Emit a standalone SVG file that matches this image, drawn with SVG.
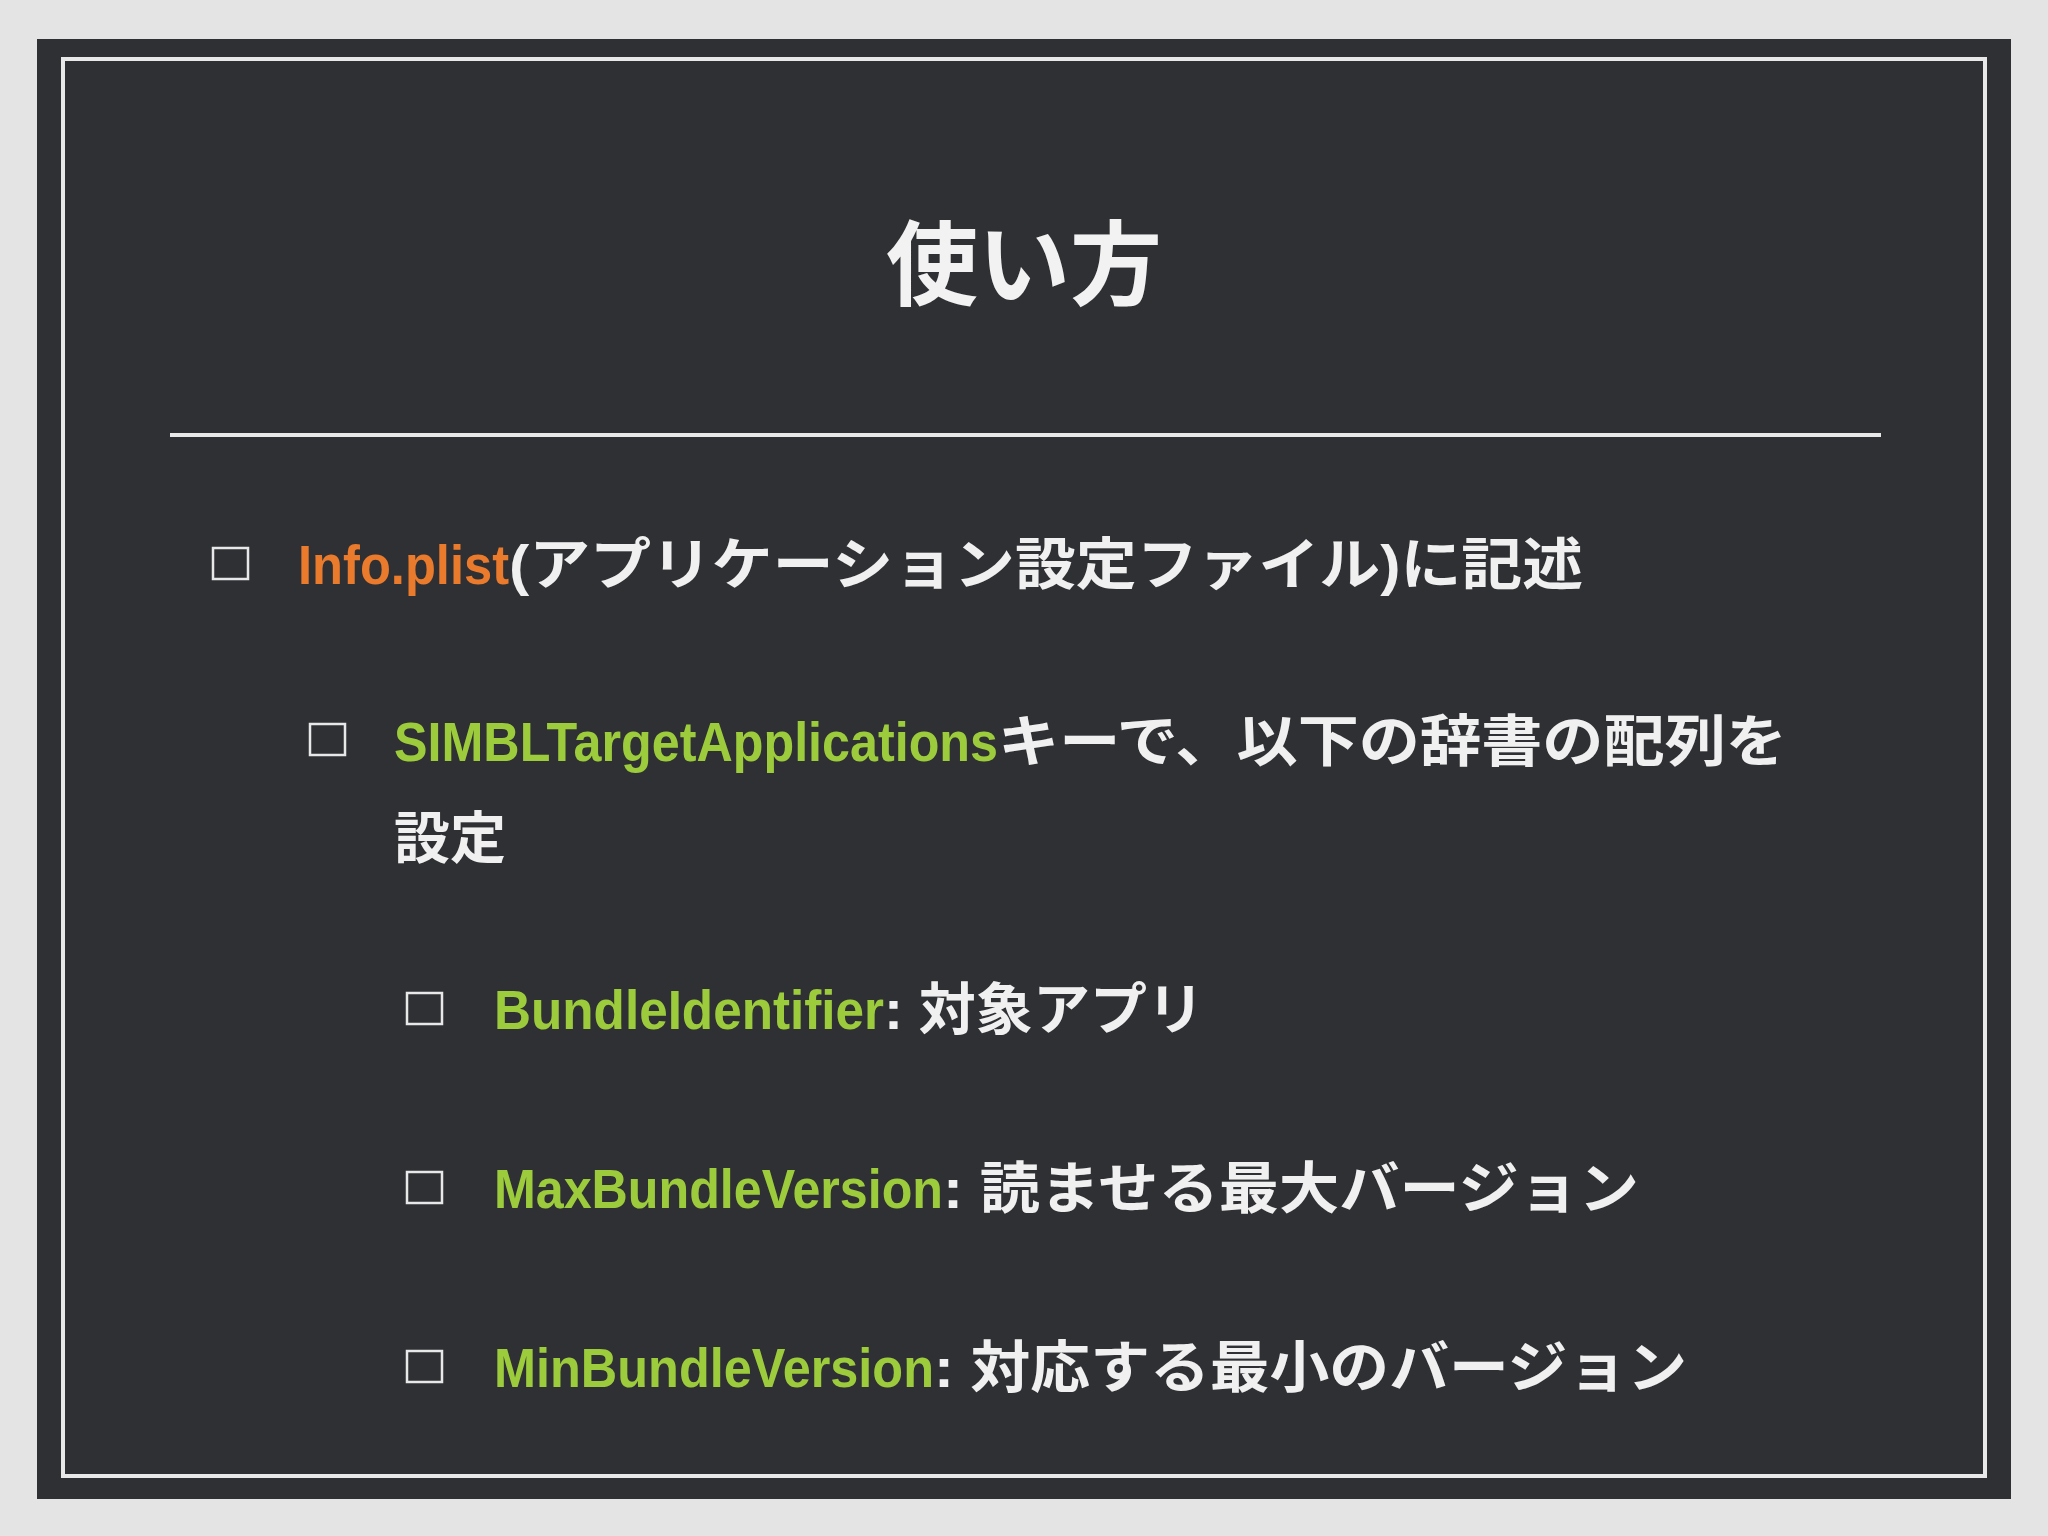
<svg xmlns="http://www.w3.org/2000/svg" width="2048" height="1536" viewBox="0 0 2048 1536">
<style>
.t{font-family:"Liberation Sans","Noto Sans CJK JP",sans-serif;font-weight:bold;font-size:56px;fill:#f0f0f0}
.o{fill:#ea7a2c}.g{fill:#9ccc3c}
.b{fill:none;stroke:#e8e8e8;stroke-width:2.5}
</style>
<rect width="2048" height="1536" fill="#e4e4e4"/>
<rect x="37" y="39" width="1974" height="1460" fill="#2f3034"/>
<rect x="63" y="59" width="1922" height="1417" fill="none" stroke="#e8e8e8" stroke-width="4"/>
<g id="title"><text x="1024" y="298" text-anchor="middle" font-family="'Noto Sans CJK JP',serif" font-size="92" font-weight="bold" fill="#f2f2f2">使い方</text></g>
<line x1="170" y1="435" x2="1881" y2="435" stroke="#e8e8e8" stroke-width="4"/>
<g id="b1"><rect x="213" y="548" width="35" height="31" class="b"/>
<text class="t o" x="298" y="584" textLength="211" lengthAdjust="spacingAndGlyphs">Info.plist</text>
<text class="t" x="509" y="584" textLength="1074" lengthAdjust="spacingAndGlyphs">(アプリケーション設定ファイル)に記述</text></g>
<g id="b2"><rect x="310" y="724" width="35" height="31" class="b"/>
<text class="t g" x="394" y="761" textLength="604" lengthAdjust="spacingAndGlyphs">SIMBLTargetApplications</text>
<text class="t" x="998" y="761" textLength="789" lengthAdjust="spacingAndGlyphs">キーで、以下の辞書の配列を</text>
<text class="t" x="394" y="858">設定</text></g>
<g id="b3"><rect x="407" y="993" width="35" height="31" class="b"/>
<text class="t g" x="494" y="1029" textLength="390" lengthAdjust="spacingAndGlyphs">BundleIdentifier</text>
<text class="t" x="884" y="1029" textLength="320" lengthAdjust="spacingAndGlyphs">: 対象アプリ</text></g>
<g id="b4"><rect x="407" y="1172" width="35" height="31" class="b"/>
<text class="t g" x="494" y="1208" textLength="449" lengthAdjust="spacingAndGlyphs">MaxBundleVersion</text>
<text class="t" x="943" y="1208" textLength="696" lengthAdjust="spacingAndGlyphs">: 読ませる最大バージョン</text></g>
<g id="b5"><rect x="407" y="1351" width="35" height="31" class="b"/>
<text class="t g" x="494" y="1387" textLength="440" lengthAdjust="spacingAndGlyphs">MinBundleVersion</text>
<text class="t" x="934" y="1387" textLength="753" lengthAdjust="spacingAndGlyphs">: 対応する最小のバージョン</text></g>
</svg>
